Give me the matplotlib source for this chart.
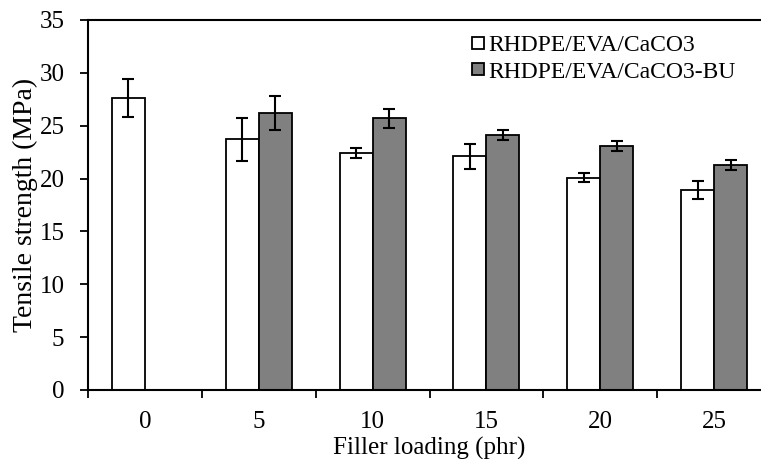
import numpy as np
from matplotlib import pyplot as plt

plt.rcParams['font.family'] = ['Liberation Serif', 'DejaVu Serif']

loading = ['0', '5', '10', '15', '20', '25']
ts_plain = [27.6, 23.7, 22.4, 22.1, 20.1, 18.9]
err_plain = [1.8, 2.0, 0.45, 1.2, 0.45, 0.85]
ts_bu = [np.nan, 26.2, 25.7, 24.1, 23.1, 21.3]
err_bu = [np.nan, 1.6, 0.9, 0.45, 0.5, 0.47]

fig = plt.figure(figsize=(7.61, 4.59), dpi=100)
ax = fig.add_axes([88/761, 1 - 390/459, (771 - 88)/761, 370/459])

x = np.arange(len(loading))
w = 0.29
ekw = dict(elinewidth=1.5, capthick=1.5)
ax.bar(x - w/2, ts_plain, w, color='white', edgecolor='black', linewidth=1.3,
       yerr=err_plain, capsize=4, error_kw=ekw, label='RHDPE/EVA/CaCO3', zorder=2)
ax.bar(x + w/2, ts_bu, w, color='#808080', edgecolor='black', linewidth=1.3,
       yerr=err_bu, capsize=4, error_kw=ekw, label='RHDPE/EVA/CaCO3-BU', zorder=2)

ax.set_xlim(-0.5, 5.5)
ax.set_ylim(0, 35)
ax.set_yticks(range(0, 36, 5))
ax.set_xticks(x)
ax.set_xticklabels(loading)
ax.set_xticks(np.arange(-0.5, 5.6, 1), minor=True)
ax.tick_params(axis='x', which='major', length=0, labelsize=18, pad=15)
ax.tick_params(axis='x', which='minor', length=6, width=1.3, direction='out')
ax.tick_params(axis='y', length=6, width=1.3, direction='out', labelsize=18, pad=11)
for s in ax.spines.values():
    s.set_linewidth(1.5)

ax.set_xlabel('Filler loading (phr)', fontsize=18, labelpad=3)
ax.set_ylabel('Tensile strength (MPa)', fontsize=20, labelpad=1)

ax.legend(loc='upper left', bbox_to_anchor=(0.548, 0.985), frameon=False, fontsize=17,
          handlelength=0.5, handleheight=0.4, handletextpad=0.2, labelspacing=0.25,
          borderaxespad=0)

plt.savefig('out.png', dpi=100)
